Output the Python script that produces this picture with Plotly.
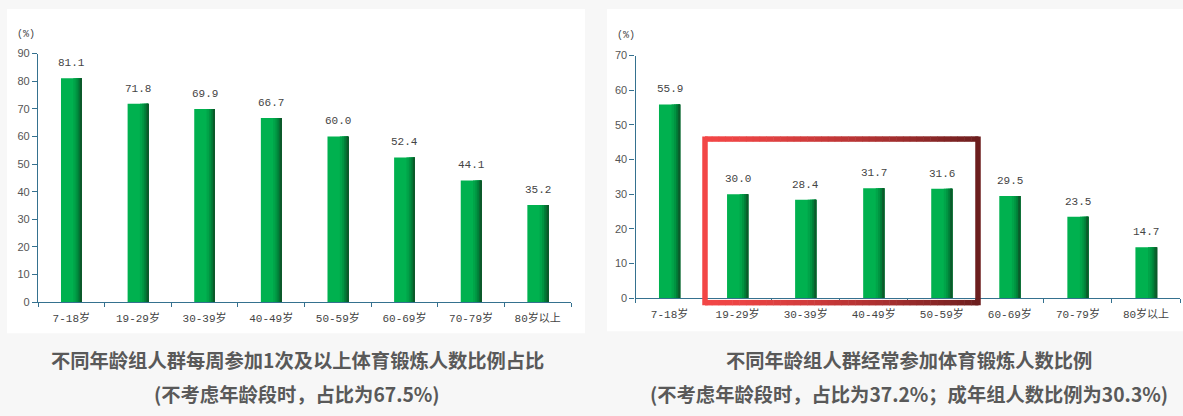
import plotly.graph_objects as go

W, H = 1183, 416

ages = ["7-18岁", "19-29岁", "30-39岁", "40-49岁", "50-59岁", "60-69岁", "70-79岁", "80岁以上"]
weekly_pct = [81.1, 71.8, 69.9, 66.7, 60.0, 52.4, 44.1, 35.2]
regular_pct = [55.9, 30.0, 28.4, 31.7, 31.6, 29.5, 23.5, 14.7]

left_ticks = [0, 10, 20, 30, 40, 50, 60, 70, 80, 90]
right_ticks = [0, 10, 20, 30, 40, 50, 60, 70]

left_title = ["不同年龄组人群每周参加1次及以上体育锻炼人数比例占比",
              "(不考虑年龄段时，占比为67.5%)"]
right_title = ["不同年龄组人群经常参加体育锻炼人数比例",
               "(不考虑年龄段时，占比为37.2%；成年组人数比例为30.3%)"]


def px(x):
    return x / W


def py(y):
    return 1 - y / H


# bar drawn as a base bar plus darker strips on the right -> fake cylinder look
strips = [
    (-0.155, 0.31, "#00b14f"),
    (0.03, 0.125, "#00a449"),
    (0.065, 0.09, "#009441"),
    (0.095, 0.06, "#007f38"),
    (0.12, 0.035, "#086a30"),
    (0.14, 0.015, "#0b5a2a"),
]

axis_col = "#35718f"
lab_font = dict(family="Liberation Mono, Noto Sans CJK SC", size=11, color="#444")

fig = go.Figure()

for xa, ya, vals in [("x", "y", weekly_pct), ("x2", "y2", regular_pct)]:
    for off, wd, col in strips:
        fig.add_trace(go.Bar(x=ages, y=vals, xaxis=xa, yaxis=ya,
                             offset=off, width=wd,
                             marker=dict(color=col, line=dict(width=0)),
                             showlegend=False, hoverinfo="skip"))
    for a, v in zip(ages, vals):
        fig.add_annotation(x=a, y=v, xref=xa, yref=ya, text=f"{v:.1f}",
                           showarrow=False, xanchor="center", yanchor="bottom", yshift=7,
                           font=lab_font)

xcommon = dict(type="category", range=[-0.5, 7.5], showline=True, linecolor=axis_col,
               linewidth=1.2, ticks="outside", tickson="boundaries", ticklen=4,
               tickcolor=axis_col, tickfont=lab_font, ticklabelstandoff=5,
               showgrid=False, fixedrange=True)
ycommon = dict(showline=True, linecolor=axis_col, linewidth=1.2, ticks="outside",
               ticklen=5, tickcolor=axis_col, showgrid=False, zeroline=False,
               tickfont=dict(family="Liberation Sans", size=11, color="#555"),
               fixedrange=True)

fig.update_layout(
    width=W, height=H,
    margin=dict(l=0, r=0, t=0, b=0),
    paper_bgcolor="#f7f7f7",
    plot_bgcolor="rgba(0,0,0,0)",
    barmode="overlay",
    xaxis=dict(domain=[px(38), px(571)], anchor="y", **xcommon),
    yaxis=dict(domain=[py(305), py(49)], anchor="x", range=[0, 90],
               tickvals=left_ticks, **ycommon),
    xaxis2=dict(domain=[px(635.5), px(1180)], anchor="y2", **xcommon),
    yaxis2=dict(domain=[py(301), py(51)], anchor="x2", range=[0, 70],
                tickvals=right_ticks, **ycommon),
)

# white panels behind the charts
fig.add_shape(type="rect", xref="paper", yref="paper", x0=px(7), x1=px(585),
              y0=py(337), y1=py(3), fillcolor="white", line=dict(width=0), layer="below")
fig.add_shape(type="rect", xref="paper", yref="paper", x0=px(607), x1=1,
              y0=py(335), y1=py(3), fillcolor="white", line=dict(width=0), layer="below")

# unit labels
for xx, yy in [(26, 29), (626, 30)]:
    fig.add_annotation(x=px(xx), y=py(yy), xref="paper", yref="paper", text="(%)",
                       showarrow=False, xanchor="center", yanchor="middle",
                       font=dict(family="Liberation Mono", size=10, color="#444"))

# titles under each chart
for cx, lines in [(297, left_title), (909, right_title)]:
    for yy, t in zip([365, 400], lines):
        fig.add_annotation(x=px(cx), y=py(yy), xref="paper", yref="paper",
                           text=f"<b>{t}</b>", showarrow=False,
                           xanchor="center", yanchor="middle",
                           font=dict(family="Noto Sans CJK SC", size=19.3, color="#595959"))

# red highlight box with a left-to-right gradient (red -> dark red)
bx0, bx1, by0, by1, lw = 705, 978, 137, 305.5, 5.5
c0, c1 = (242, 70, 70), (108, 30, 30)


def mix(t):
    t = t ** 1.4
    return "rgb(%d,%d,%d)" % tuple(round(a + (b - a) * t) for a, b in zip(c0, c1))


n = 40
for i in range(n):
    xa_ = bx0 + (bx1 - bx0) * i / n
    xb_ = bx0 + (bx1 - bx0) * (i + 1) / n + 0.5
    col = mix((i + 0.5) / n)
    for yy in (by0, by1):
        fig.add_shape(type="line", xref="paper", yref="paper", x0=px(xa_), x1=px(xb_),
                      y0=py(yy), y1=py(yy), line=dict(color=col, width=lw))
for xx, t in [(bx0, 0.0), (bx1, 1.0)]:
    fig.add_shape(type="line", xref="paper", yref="paper", x0=px(xx), x1=px(xx),
                  y0=py(by0 - lw / 2), y1=py(by1 + lw / 2),
                  line=dict(color=mix(t), width=lw))

# drop the default 8px page margin so the figure fills the window exactly
fig.write_html("out.html", config={"displayModeBar": False},
               post_script="document.body.style.margin = '0';")
